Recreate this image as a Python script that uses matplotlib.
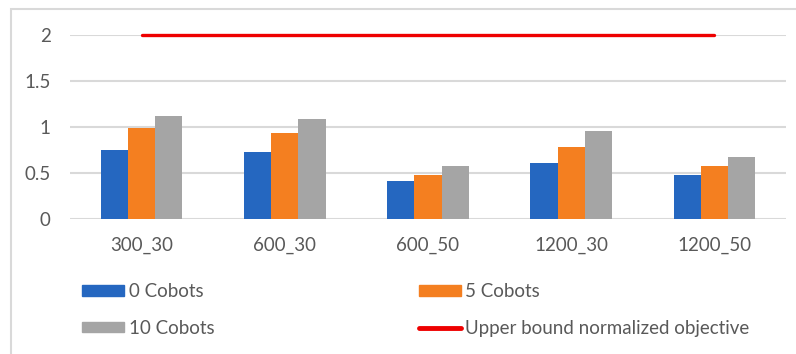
import matplotlib
matplotlib.use("Agg")
import matplotlib.pyplot as plt
import numpy as np
from matplotlib.patches import Patch, Rectangle
from matplotlib.lines import Line2D

categories = ["300_30", "600_30", "600_50", "1200_30", "1200_50"]
cobots_0 = [0.75, 0.73, 0.41, 0.61, 0.48]
cobots_5 = [0.99, 0.93, 0.48, 0.78, 0.58]
cobots_10 = [1.12, 1.08, 0.57, 0.95, 0.67]
upper_bound = [2, 2, 2, 2, 2]
y_ticks = [0, 0.5, 1, 1.5, 2]
y_tick_labels = ["0", "0.5", "1", "1.5", "2"]

plt.rcParams["font.family"] = ["Lato", "DejaVu Sans"]

W, H = 796, 354
fig = plt.figure(figsize=(W / 100, H / 100), dpi=100)
ax = fig.add_axes([70 / W, 1 - 219 / H, (786 - 70) / W, (219 - 34.7) / H])

blue, orange, gray, red = "#2567c0", "#f47f20", "#a5a5a5", "#ee0000"
text_color = "#595959"
grid_color = "#d9d9d9"
fs = 13.5

x = np.arange(len(categories))
bw = 0.19
ax.bar(x - bw, cobots_0, bw, color=blue, zorder=3)
ax.bar(x, cobots_5, bw, color=orange, zorder=3)
ax.bar(x + bw, cobots_10, bw, color=gray, zorder=3)
ax.plot(x, upper_bound, color=red, lw=2.4, solid_capstyle="round", zorder=4, clip_on=False)

ax.set_xlim(-0.5, len(categories) - 0.5)
ax.set_ylim(0, 2)
ax.set_yticks(y_ticks)
ax.set_yticklabels(y_tick_labels)
ax.set_xticks(x)
ax.set_xticklabels(categories)
ax.yaxis.grid(True, color=grid_color, lw=1.5, zorder=0)
for s in ax.spines.values():
    s.set_visible(False)
ax.tick_params(axis="both", length=0, colors=text_color, labelsize=fs)
ax.tick_params(axis="y", pad=14)
ax.tick_params(axis="x", pad=13)

# chart frame
fig.patches.append(Rectangle((11 / W, -0.1), 1.2, 1 - 9 / H + 0.1, transform=fig.transFigure,
                             fill=False, edgecolor=grid_color, lw=1.5))

handles = [Patch(color=blue), Patch(color=gray), Patch(color=orange),
           Line2D([0], [0], color=red, lw=3.5, solid_capstyle="round")]
labels = ["0 Cobots", "10 Cobots", "5 Cobots", "Upper bound normalized objective"]
fig.legend(handles, labels, ncol=2, loc="upper left", bbox_to_anchor=(65 / W, 1 - 266 / H),
           frameon=False, fontsize=fs, labelcolor=text_color, handlelength=2.24,
           handleheight=0.5, handletextpad=0.25, columnspacing=10.9, labelspacing=1.05)

fig.savefig("out.png", dpi=100)
